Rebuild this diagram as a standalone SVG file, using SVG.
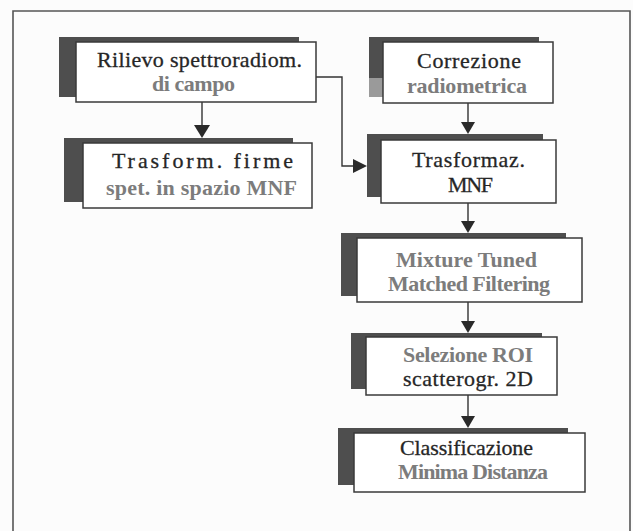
<svg xmlns="http://www.w3.org/2000/svg" width="633" height="531" viewBox="0 0 633 531">
<defs>
<style>
.bg{fill:#fcfcfc}
.frame{fill:none;stroke:#555;stroke-width:1.6}
.sh{fill:#4e4e4e}
.box{fill:#fff;stroke:#3a3a3a;stroke-width:1.5}
.t{font-family:"Liberation Serif","Times New Roman",serif;font-size:22px;text-anchor:start}
.d{fill:#262626;stroke:#262626;stroke-width:0.3}
.g{fill:#7c7c7c;font-weight:bold}
.ln{fill:none;stroke:#333;stroke-width:1.4}
.ah{fill:#2a2a2a}
</style>
</defs>
<rect class="bg" x="0" y="0" width="633" height="531"/>
<path class="frame" d="M13,531 V11 H630 V531"/>

<g id="connectors">
<path class="ln" d="M202,102 V126"/>
<polygon class="ah" points="194,125 210,125 202,138"/>
<path class="ln" d="M316,77 H342 V166 H355"/>
<polygon class="ah" points="353,159 353,173 367,166"/>
<path class="ln" d="M468,103 V123"/>
<polygon class="ah" points="461,122 475,122 468,134"/>
<path class="ln" d="M468,203 V222"/>
<polygon class="ah" points="461,221 475,221 468,233"/>
<path class="ln" d="M468,302 V322"/>
<polygon class="ah" points="461,321 475,321 468,333"/>
<path class="ln" d="M468,395 V417"/>
<polygon class="ah" points="461,416 475,416 468,428"/>
</g>

<g id="n1">
<rect class="sh" x="59" y="37" width="240" height="60"/>
<rect class="box" x="76" y="42" width="240" height="60"/>
<text class="t d" x="97" y="67" textLength="205" lengthAdjust="spacing">Rilievo spettroradiom.</text>
<text class="t g" x="152" y="91" textLength="83" lengthAdjust="spacing">di campo</text>
</g>

<g id="n2">
<rect class="sh" x="64" y="138" width="229" height="64"/>
<rect class="box" x="83" y="143" width="229" height="65"/>
<text class="t d" x="112" y="168" textLength="181" lengthAdjust="spacing">Trasform.  firme</text>
<text class="t g" x="106" y="195" textLength="191" lengthAdjust="spacing">spet. in spazio MNF</text>
</g>

<g id="n3">
<rect class="sh" x="369" y="37" width="170" height="60"/>
<rect x="369" y="78" width="14" height="19" fill="#9a9a9a"/>
<rect class="box" x="383" y="42" width="170" height="61"/>
<text class="t d" x="417" y="68" textLength="104" lengthAdjust="spacing">Correzione</text>
<text class="t g" x="407" y="93" textLength="120" lengthAdjust="spacing">radiometrica</text>
</g>

<g id="n4">
<rect class="sh" x="367" y="134" width="176" height="63"/>
<rect class="box" x="381" y="140" width="175" height="63"/>
<text class="t d" x="412" y="167" textLength="113" lengthAdjust="spacing">Trasformaz.</text>
<text class="t d" x="448" y="192" textLength="45" lengthAdjust="spacing">MNF</text>
</g>

<g id="n5">
<rect class="sh" x="341" y="233" width="225" height="63"/>
<rect class="box" x="357" y="238" width="225" height="64"/>
<text class="t g" x="396" y="267" textLength="141" lengthAdjust="spacing">Mixture Tuned</text>
<text class="t g" x="388" y="291" textLength="162" lengthAdjust="spacing">Matched Filtering</text>
</g>

<g id="n6">
<rect class="sh" x="351" y="333" width="191" height="56"/>
<rect class="box" x="366" y="337" width="191" height="58"/>
<text class="t g" x="403" y="362" textLength="130" lengthAdjust="spacing">Selezione ROI</text>
<text class="t d" x="403" y="386" textLength="130" lengthAdjust="spacing">scatterogr. 2D</text>
</g>

<g id="n7">
<rect class="sh" x="338" y="428" width="230" height="57"/>
<rect class="box" x="354" y="433" width="231" height="59"/>
<text class="t d" x="400" y="455" textLength="133" lengthAdjust="spacing">Classificazione</text>
<text class="t g" x="398" y="479" textLength="150" lengthAdjust="spacing">Minima Distanza</text>
</g>
</svg>
